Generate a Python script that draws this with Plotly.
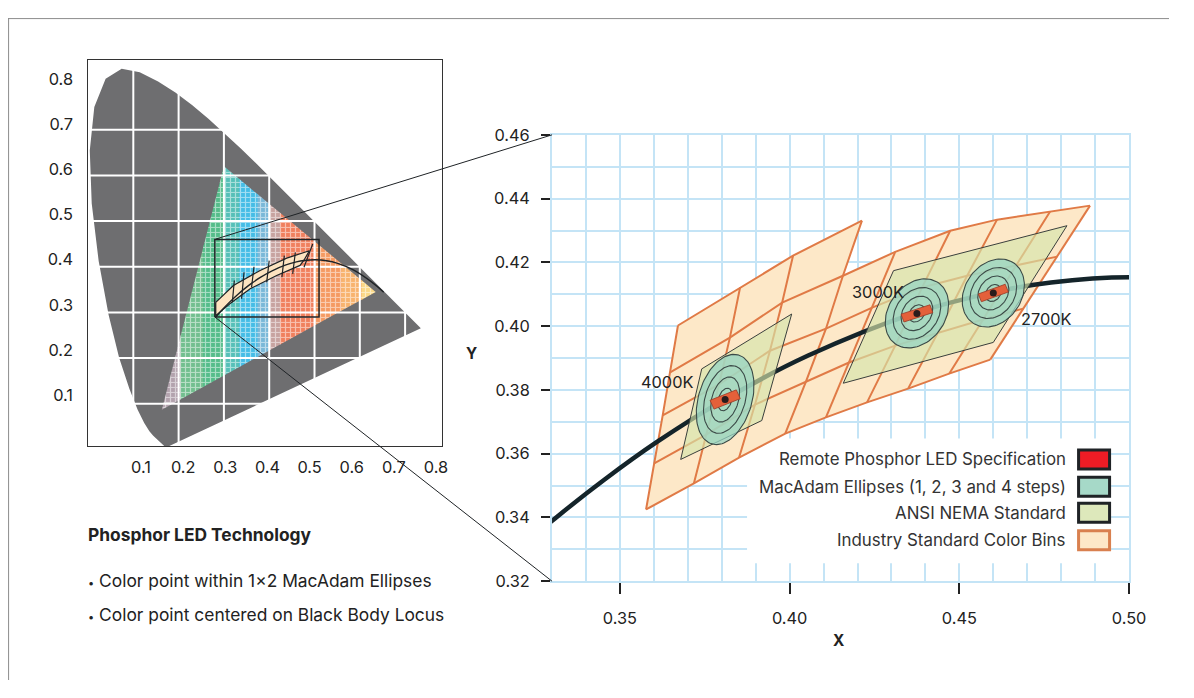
import numpy as np
import plotly.graph_objects as go

# page layout: the figure sits inside the default 8px body margin; positions below are
# page pixels, mapped onto the figure with the placement measured on the rendered page
PAGE_W, PAGE_H = 1194, 698
W, H = PAGE_W - 16, PAGE_H - 16
SX, SY = 0.9855, 0.972
OX, OY = 8, 17
FONT = "Inter"
INK = "#222"
FS = 1 / 0.978  # font compensation for the same placement

# ---------------- left panel: CIE 1931 diagram ----------------
# spectral locus, 380 nm -> 700 nm
spectral_x = [0.1741, 0.1733, 0.1714, 0.1689, 0.1644, 0.1566, 0.1440, 0.1355, 0.1241, 0.1096,
              0.0913, 0.0687, 0.0454, 0.0235, 0.0082, 0.0039, 0.0139, 0.0389, 0.0743, 0.1142,
              0.1547, 0.1929, 0.2296, 0.2658, 0.3016, 0.3373, 0.3731, 0.4087, 0.4441, 0.4788,
              0.5125, 0.5448, 0.5752, 0.6029, 0.6270, 0.6658, 0.6915, 0.7079, 0.7190, 0.7300, 0.7347]
spectral_y = [0.0050, 0.0048, 0.0051, 0.0069, 0.0109, 0.0177, 0.0297, 0.0399, 0.0578, 0.0868,
              0.1327, 0.2007, 0.2950, 0.4127, 0.5384, 0.6548, 0.7502, 0.8120, 0.8338, 0.8262,
              0.8059, 0.7816, 0.7543, 0.7243, 0.6923, 0.6589, 0.6245, 0.5896, 0.5547, 0.5202,
              0.4866, 0.4544, 0.4242, 0.3965, 0.3725, 0.3340, 0.3083, 0.2920, 0.2809, 0.2700, 0.2653]

# phosphor gamut triangle and its colour bands (left to right)
gamut_x = [0.300, 0.163, 0.635]
gamut_y = [0.620, 0.087, 0.345]
band_edges = [0.155, 0.205, 0.255, 0.300, 0.335, 0.375, 0.400, 0.425, 0.500, 0.560, 0.605, 0.640]
band_colors = ["#b3a3ae", "#72bf8f", "#55bd8a", "#56c0b8", "#45bde6", "#7ab8d8",
               "#c7a3a0", "#f0805e", "#f59a62", "#f8b36e", "#fbd886"]

# Planckian (black body) locus
planck_cct = [10000, 8000, 6500, 6000, 5500, 5000, 4500, 4000, 3500, 3000, 2700, 2500,
              2200, 2000, 1800, 1500, 1200, 1000]
planck_x = [0.2807, 0.2952, 0.3135, 0.3221, 0.3325, 0.3451, 0.3608, 0.3805, 0.4053, 0.4369,
            0.4599, 0.4770, 0.5018, 0.5267, 0.5496, 0.5857, 0.6251, 0.6528]
planck_y = [0.2884, 0.3048, 0.3237, 0.3318, 0.3411, 0.3516, 0.3636, 0.3768, 0.3907, 0.4041,
            0.4106, 0.4137, 0.4153, 0.4133, 0.4081, 0.3931, 0.3674, 0.3444]

# small bin strip drawn on the overview
strip_upper_x = [0.282, 0.321, 0.380, 0.4386, 0.4886]
strip_upper_y = [0.322, 0.359, 0.392, 0.419, 0.435]
strip_lower_x = [0.282, 0.313, 0.358, 0.4165, 0.468, 0.477]
strip_lower_y = [0.293, 0.319, 0.352, 0.381, 0.403, 0.415]
strip_ticks = [  # (x top, y top, x bottom, y bottom)
    (0.323, 0.370, 0.3186, 0.322), (0.3444, 0.388, 0.339, 0.330), (0.3664, 0.400, 0.361, 0.355),
    (0.400, 0.4136, 0.3944, 0.366), (0.4334, 0.4245, 0.428, 0.377), (0.4577, 0.4317, 0.4518, 0.3845),
    (0.496, 0.450, 0.4768, 0.399)]

zoom_box_x = [0.28, 0.51]
zoom_box_y = [0.29, 0.46]

left_grid = [0.1, 0.2, 0.3, 0.4, 0.5, 0.6, 0.7]
left_ticks = [0.1, 0.2, 0.3, 0.4, 0.5, 0.6, 0.7, 0.8]

# ---------------- right panel: zoomed detail ----------------
# colour-bin mesh nodes, one list per column, rows from top (None = no node)
bin_x = [
    [0.3671, 0.3648, 0.3626, 0.3601, 0.3577],
    [0.3854, 0.3824, 0.3792, 0.3754, 0.3718],
    [0.4010, 0.3978, 0.3942, 0.3898, 0.3851],
    [0.4213, 0.4157, 0.4107, 0.4048, 0.3987],
    [None, 0.4311, 0.4243, 0.4175, 0.4107],
    [None, 0.4473, 0.4390, 0.4311, 0.4228],
    [None, 0.4611, 0.4523, 0.4437, 0.4349],
    [None, 0.4767, 0.4667, 0.4570, 0.4470],
    [None, 0.4885, 0.4788, 0.4688, 0.4591],
]
bin_y = [
    [0.4002, 0.3855, 0.3720, 0.3570, 0.3425],
    [0.4121, 0.3964, 0.3817, 0.3660, 0.3507],
    [0.4221, 0.4074, 0.3923, 0.3754, 0.3588],
    [0.4331, 0.4158, 0.3992, 0.3826, 0.3663],
    [None, 0.4233, 0.4058, 0.3886, 0.3714],
    [None, 0.4299, 0.4121, 0.3939, 0.3761],
    [None, 0.4334, 0.4158, 0.3980, 0.3804],
    [None, 0.4359, 0.4190, 0.4021, 0.3851],
    [None, 0.4378, 0.4218, 0.4055, 0.3895],
]

# ANSI NEMA quadrangles (corners clockwise from top-left)
ansi_x = [[0.3741, 0.4006, 0.3918, 0.3679], [0.4306, 0.4817, 0.4600, 0.4158]]
ansi_y = [[0.3866, 0.4038, 0.3704, 0.3582], [0.4174, 0.4315, 0.3949, 0.3821]]

# LED specification points with MacAdam ellipses (4-step size) and spec boxes
spec_names = ["4000K", "3000K", "2700K"]
spec_x = [0.3810, 0.4375, 0.4600]
spec_y = [0.3770, 0.4040, 0.4104]
ellipse_a = [0.0145, 0.0115, 0.0112]
ellipse_b = [0.0079, 0.0085, 0.0085]
ellipse_angle = [75, 60, 62]
macadam_steps = [4, 3, 2, 1]
spec_box_len = [0.0084, 0.0090, 0.0085]
spec_box_h = [0.0030, 0.0026, 0.0026]
spec_box_angle = [23, 19, 21]
label_x = [0.3639, 0.4261, 0.4758]
label_y = [0.3826, 0.4108, 0.4024]

legend_names = ["Remote Phosphor LED Specification", "MacAdam Ellipses (1, 2, 3 and 4 steps)",
                "ANSI NEMA Standard", "Industry Standard Color Bins"]
legend_fill = ["#ee1c25", "#a6d9c8", "#dde8bb", "#fde8c8"]
legend_edge = ["#1f2326", "#1f2326", "#1f2326", "#d9804f"]

BIN_FILL = "#fde8c8"
BIN_LINE = "#e07a46"
GRID_BLUE = "#c4e4f6"

# panel placement in page pixels
L_BOX = (88, 442, 59, 446)      # left, right, top, bottom
R_BOX = (552, 1129, 134, 581)
LEG_BOX = (747, 1111, 438, 563)
L_XR = [0.0, 0.7815]
L_YR = [0.0066, 0.853]
L_LABEL_XR = [-0.0258, 0.8142]
L_LABEL_YR = [-0.0126, 0.8417]
R_XR = [0.33, 0.50]
R_YR = [0.32, 0.46]


def pxp(px):
    return (px - OX) / SX / W


def pyp(py):
    return 1 - (py - OY) / SY / H


def to_paper(x, y, box, xr, yr):
    l, r, t, b = box
    px = l + (x - xr[0]) / (xr[1] - xr[0]) * (r - l)
    py = b - (y - yr[0]) / (yr[1] - yr[0]) * (b - t)
    return pxp(px), pyp(py)


def px_to_data(px, py, box, xr, yr):
    l, r, t, b = box
    return xr[0] + (px - l) / (r - l) * (xr[1] - xr[0]), yr[0] + (b - py) / (b - t) * (yr[1] - yr[0])


def clip_x(poly, xc, keep_right):
    out = []
    for i in range(len(poly)):
        cur, prev = poly[i], poly[i - 1]
        cin = cur[0] >= xc if keep_right else cur[0] <= xc
        pin = prev[0] >= xc if keep_right else prev[0] <= xc
        if cin != pin:
            t = (xc - prev[0]) / (cur[0] - prev[0])
            out.append((xc, prev[1] + t * (cur[1] - prev[1])))
        if cin:
            out.append(cur)
    return out


def ellipse(cx, cy, a, b, ang):
    t = np.linspace(0, 2 * np.pi, 100)
    th = np.radians(ang)
    ex, ey = a * np.cos(t), b * np.sin(t)
    return cx + ex * np.cos(th) - ey * np.sin(th), cy + ex * np.sin(th) + ey * np.cos(th)


def box(cx, cy, ln, h, ang):
    th = np.radians(ang)
    pts = [(-ln / 2, -h / 2), (ln / 2, -h / 2), (ln / 2, h / 2), (-ln / 2, h / 2), (-ln / 2, -h / 2)]
    xs = [cx + u * np.cos(th) - v * np.sin(th) for u, v in pts]
    ys = [cy + u * np.sin(th) + v * np.cos(th) for u, v in pts]
    return xs, ys


fig = go.Figure()
L = dict(xaxis="x2", yaxis="y2", hoverinfo="skip", showlegend=False)

# horseshoe
fig.add_trace(go.Scatter(x=spectral_x, y=spectral_y, fill="toself", fillcolor="#6e6e70",
                         mode="lines", line=dict(width=0), **L))

# gamut triangle in coloured bands with a white plaid
tri = list(zip(gamut_x, gamut_y))
for i, col in enumerate(band_colors):
    poly = clip_x(clip_x(tri, band_edges[i] - 0.001, True), band_edges[i + 1] + 0.001, False)
    if len(poly) < 3:
        continue
    px_, py_ = zip(*(poly + [poly[0]]))
    fig.add_trace(go.Scatter(x=px_, y=py_, fill="toself", fillcolor=col, mode="lines",
                             line=dict(width=0),
                             fillpattern=dict(shape="+", bgcolor=col, fgcolor="white",
                                              size=5, solidity=0.42), **L))

# white grid on top
gx, gy = [], []
for v in left_grid:
    gx += [v, v, None]
    gy += [L_YR[0], L_YR[1], None]
    gx += [L_XR[0], L_XR[1], None]
    gy += [v, v, None]
fig.add_trace(go.Scatter(x=gx, y=gy, mode="lines", line=dict(color="white", width=2), **L))

# bin strip, ticks, locus, zoom box
sx = strip_upper_x + strip_lower_x[::-1] + [strip_upper_x[0]]
sy = strip_upper_y + strip_lower_y[::-1] + [strip_upper_y[0]]
fig.add_trace(go.Scatter(x=sx, y=sy, fill="toself", fillcolor="#fde3c0", mode="lines",
                         line=dict(color="#1f2326", width=1.2), **L))
tx, ty = [], []
for x0, y0, x1, y1 in strip_ticks:
    tx += [x0, x1, None]
    ty += [y0, y1, None]
fig.add_trace(go.Scatter(x=tx, y=ty, mode="lines", line=dict(color="#1f2326", width=1.2), **L))
fig.add_trace(go.Scatter(x=planck_x, y=planck_y, mode="lines", line=dict(color="#1f2326", width=1.4,
                         shape="spline"), **L))
bx = [zoom_box_x[0], zoom_box_x[1], zoom_box_x[1], zoom_box_x[0], zoom_box_x[0]]
by = [zoom_box_y[0], zoom_box_y[0], zoom_box_y[1], zoom_box_y[1], zoom_box_y[0]]
fig.add_trace(go.Scatter(x=bx, y=by, mode="lines", line=dict(color="#1f2326", width=1.5), **L))

# empty trace so the label-only overlay axes exist
fig.add_trace(go.Scatter(x=[None], y=[None], xaxis="x3", yaxis="y3", showlegend=False))

# ---------------- right panel traces ----------------
R = dict(hoverinfo="skip", showlegend=False)

# white patch behind the legend hides the blue grid
lx0, ly0 = px_to_data(LEG_BOX[0], LEG_BOX[3], R_BOX, R_XR, R_YR)
lx1, ly1 = px_to_data(LEG_BOX[1], LEG_BOX[2], R_BOX, R_XR, R_YR)
fig.add_trace(go.Scatter(x=[lx0, lx1, lx1, lx0, lx0], y=[ly0, ly0, ly1, ly1, ly0], fill="toself",
                         fillcolor="white", mode="lines", line=dict(width=0), **R))

outline = [(c, 0) for c in range(4)] + [(3, 1)] + [(c, 1) for c in range(4, 9)] + \
          [(8, 2), (8, 3), (8, 4)] + [(c, 4) for c in range(7, -1, -1)] + [(0, 3), (0, 2), (0, 1), (0, 0)]
fig.add_trace(go.Scatter(x=[bin_x[c][r] for c, r in outline], y=[bin_y[c][r] for c, r in outline],
                         fill="toself", fillcolor=BIN_FILL, mode="lines", line=dict(width=0), **R))
mx, my = [], []
for r in range(5):
    for c in range(9):
        if bin_x[c][r] is not None:
            mx.append(bin_x[c][r])
            my.append(bin_y[c][r])
    mx.append(None)
    my.append(None)
for c in range(9):
    for r in range(5):
        if bin_x[c][r] is not None:
            mx.append(bin_x[c][r])
            my.append(bin_y[c][r])
    mx.append(None)
    my.append(None)
fig.add_trace(go.Scatter(x=mx, y=my, mode="lines", line=dict(color=BIN_LINE, width=2), **R))

fig.add_trace(go.Scatter(x=planck_x, y=planck_y, mode="lines",
                         line=dict(color="#14242a", width=4.5, shape="spline"), **R))

for qx, qy in zip(ansi_x, ansi_y):
    fig.add_trace(go.Scatter(x=qx + [qx[0]], y=qy + [qy[0]], fill="toself",
                             fillcolor="rgba(214,229,170,0.65)", mode="lines",
                             line=dict(color="#3a3f3c", width=1), **R))

for i in range(len(spec_x)):
    for k, s in enumerate(macadam_steps):
        ex, ey = ellipse(spec_x[i], spec_y[i], ellipse_a[i] * s / 4, ellipse_b[i] * s / 4, ellipse_angle[i])
        fig.add_trace(go.Scatter(x=ex, y=ey, mode="lines", fill="toself" if k == 0 else None,
                                 fillcolor="rgba(150,212,196,0.75)",
                                 line=dict(color="#3b4a47", width=1.1), **R))
    rx, ry = box(spec_x[i], spec_y[i], spec_box_len[i], spec_box_h[i], spec_box_angle[i])
    fig.add_trace(go.Scatter(x=rx, y=ry, mode="lines", fill="toself", fillcolor="#e4603a",
                             line=dict(color="#9a3a26", width=0.8), **R))
fig.add_trace(go.Scatter(x=spec_x, y=spec_y, mode="markers",
                         marker=dict(color="#2a1c1c", size=7), **R))

annotations = []
for name, lx, ly in zip(spec_names, label_x, label_y):
    annotations.append(dict(x=lx, y=ly, xref="x", yref="y", text=name, showarrow=False,
                            font=dict(size=16 * FS, color=INK)))

shapes = []
leg_rows = [459, 486.5, 512.5, 540]
for name, fc, ec, yc in zip(legend_names, legend_fill, legend_edge, leg_rows):
    shapes.append(dict(type="rect", xref="paper", yref="paper", x0=pxp(1078.5), x1=pxp(1109.5),
                       y0=pyp(yc + 9.5), y1=pyp(yc - 9.5), fillcolor=fc,
                       line=dict(color=ec, width=3)))
    annotations.append(dict(x=pxp(1068), y=pyp(yc), xref="paper", yref="paper", text=name,
                            showarrow=False, xanchor="right", yanchor="middle",
                            font=dict(size=16.5 * FS, color="#333")))

# connector lines from the zoom box to the detail panel
for yb, yr in ((zoom_box_y[1], R_YR[1]), (zoom_box_y[0], R_YR[0])):
    x0, y0 = to_paper(zoom_box_x[0], yb, L_BOX, L_XR, L_YR)
    x1, y1 = to_paper(R_XR[0], yr, R_BOX, R_XR, R_YR)
    shapes.append(dict(type="line", xref="paper", yref="paper", x0=x0, y0=y0, x1=x1, y1=y1,
                       line=dict(color="#1f2326", width=1)))

# page frame (as close to the page edge as the figure reaches)
shapes.append(dict(type="line", xref="paper", yref="paper", x0=0, x1=1, y0=1 - 0.6 / H, y1=1 - 0.6 / H,
                   line=dict(color="#8c8c8c", width=1)))
shapes.append(dict(type="line", xref="paper", yref="paper", x0=0.6 / W, x1=0.6 / W, y0=0, y1=1,
                   line=dict(color="#8c8c8c", width=1)))

for t, px, py in (("<b>Y</b>", 471, 353), ("<b>X</b>", 838, 640)):
    annotations.append(dict(x=pxp(px), y=pyp(py), xref="paper", yref="paper", text=t, showarrow=False,
                            xanchor="center", yanchor="middle", font=dict(size=15 * FS, color=INK)))

bullet = "<span style='font-size:11px'>•</span> "
text_lines = [("<b>Phosphor LED Technology</b>", 534), (bullet + "Color point within 1x2 MacAdam Ellipses", 580),
              (bullet + "Color point centered on Black Body Locus", 614)]
for t, yc in text_lines:
    annotations.append(dict(x=pxp(86), y=pyp(yc), xref="paper", yref="paper", text=t, showarrow=False,
                            xanchor="left", yanchor="middle", font=dict(size=17 * FS, color=INK)))

fig.update_layout(
    width=W, height=H, autosize=False, margin=dict(l=0, r=0, t=0, b=0),
    paper_bgcolor="white", plot_bgcolor="rgba(0,0,0,0)", showlegend=False,
    font=dict(family=FONT, size=16, color=INK),
    xaxis=dict(domain=[pxp(R_BOX[0]), pxp(R_BOX[1])], range=R_XR, dtick=0.05, tickformat=".2f",
               ticks="outside", ticklen=11, tickwidth=2, tickcolor=INK, ticklabelstandoff=10,
               showgrid=True, gridcolor=GRID_BLUE, gridwidth=2, zeroline=False,
               showline=True, linecolor=GRID_BLUE, linewidth=2, mirror=True,
               minor=dict(dtick=0.01, showgrid=True, gridcolor=GRID_BLUE, gridwidth=1.5, ticks=""),
               anchor="y", tickfont=dict(size=16 * FS, color=INK)),
    yaxis=dict(domain=[pyp(R_BOX[3]), pyp(R_BOX[2])], range=R_YR, dtick=0.02, tickformat=".2f",
               ticks="outside", ticklen=9, tickwidth=2, tickcolor=INK, ticklabelstandoff=8,
               showgrid=True, gridcolor=GRID_BLUE, gridwidth=2, zeroline=False,
               showline=True, linecolor=GRID_BLUE, linewidth=2, mirror=True,
               minor=dict(dtick=0.01, showgrid=True, gridcolor=GRID_BLUE, gridwidth=1.5, ticks=""),
               anchor="x", tickfont=dict(size=16 * FS, color=INK)),
    xaxis2=dict(domain=[pxp(L_BOX[0]), pxp(L_BOX[1])], range=L_XR, showgrid=False, zeroline=False,
                showticklabels=False, ticks="", showline=True, linecolor="#333", linewidth=1.2,
                mirror=True, anchor="y2"),
    yaxis2=dict(domain=[pyp(L_BOX[3]), pyp(L_BOX[2])], range=L_YR, showgrid=False, zeroline=False,
                showticklabels=False, ticks="", showline=True, linecolor="#333", linewidth=1.2,
                mirror=True, anchor="x2"),
    xaxis3=dict(overlaying="x2", anchor="y3", range=L_LABEL_XR, tickvals=left_ticks,
                ticktext=[f"{v:.1f}" for v in left_ticks], showgrid=False, zeroline=False,
                showline=False, ticks="", ticklabelstandoff=9, tickfont=dict(size=16 * FS, color=INK)),
    yaxis3=dict(overlaying="y2", anchor="x3", range=L_LABEL_YR, tickvals=left_ticks,
                ticktext=[f"{v:.1f}" for v in left_ticks], showgrid=False, zeroline=False,
                showline=False, ticks="", ticklabelstandoff=14, tickfont=dict(size=16 * FS, color=INK)),
    shapes=shapes, annotations=annotations,
)

fig.write_html("out.html", config={"responsive": False, "displayModeBar": False})
